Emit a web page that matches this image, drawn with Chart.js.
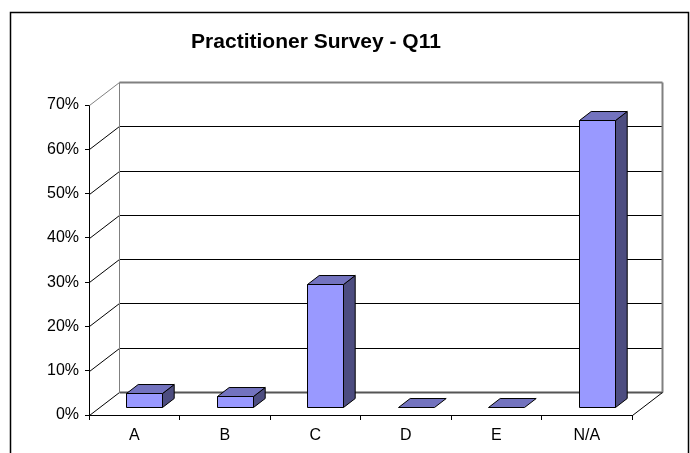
<!DOCTYPE html>
<html>
<head>
<meta charset="utf-8">
<script src="https://cdn.jsdelivr.net/npm/chart.js@4/dist/chart.umd.min.js"></script>
<style>
html,body{margin:0;padding:0;background:#fff;}
#wrap{position:relative;width:690px;height:453px;}
canvas{display:block;}
</style>
</head>
<body>
<div id="wrap"><canvas id="c" width="690" height="453"></canvas></div>
<script>
// ---- data ----
const categories = ['A', 'B', 'C', 'D', 'E', 'N/A'];
const values = [3.25, 2.5, 27.9, 0, 0, 64.9];   // percent
const yTickMax = 70;
const yTickStep = 10;
const chartTitle = 'Practitioner Survey - Q11';

// ---- 3D look ----
const DX = 30, DY = -23;          // depth of the floor / walls
const FRONT = 0.33, DEPTH = 0.39; // bar position & depth as fraction
const FONT = '"Liberation Sans", Arial, sans-serif';

const frame3d = {
  id: 'frame3d',
  beforeDraw(chart) {
    const ctx = chart.ctx;
    ctx.save();
    ctx.strokeStyle = '#000';
    ctx.lineWidth = 1.5;
    ctx.beginPath();
    ctx.moveTo(10.5, 460);
    ctx.lineTo(10.5, 12.5);
    ctx.lineTo(688.5, 12.5);
    ctx.lineTo(688.5, 460);
    ctx.stroke();
    ctx.restore();
  },
  beforeDatasetsDraw(chart) {
    const ctx = chart.ctx;
    const a = chart.chartArea;
    const ys = chart.scales.y;
    const L = Math.round(a.left) + 0.5, R = Math.round(a.right) + 0.5;
    ctx.save();
    ctx.lineCap = 'butt';
    // back wall gridlines + left wall diagonals
    ys.ticks.forEach(t => {
      const y = Math.round(ys.getPixelForValue(t.value)) + 0.5;
      const isTop = t.value === ys.max;
      const isZero = t.value === 0;
      // left wall diagonal
      ctx.strokeStyle = isTop ? '#808080' : '#000';
      ctx.lineWidth = 1;
      ctx.beginPath();
      ctx.moveTo(L, y);
      ctx.lineTo(L + DX, y + DY);
      ctx.stroke();
      // back wall line
      ctx.strokeStyle = isTop ? '#808080' : (isZero ? '#555' : '#000');
      ctx.lineWidth = (isTop || isZero) ? 2 : 1;
      ctx.beginPath();
      ctx.moveTo(L + DX, y + DY);
      ctx.lineTo(R + DX, y + DY);
      ctx.stroke();
    });
    const yT = Math.round(ys.getPixelForValue(ys.max)) + 0.5;
    const yB = Math.round(ys.getPixelForValue(0)) + 0.5;
    // back wall left & right edges
    ctx.strokeStyle = '#808080';
    ctx.lineWidth = 1;
    ctx.beginPath();
    ctx.moveTo(L + DX, yT + DY); ctx.lineTo(L + DX, yB + DY);
    ctx.stroke();
    ctx.lineWidth = 2;
    ctx.beginPath();
    ctx.moveTo(R + DX, yT + DY); ctx.lineTo(R + DX, yB + DY);
    ctx.stroke();
    // floor right diagonal
    ctx.strokeStyle = '#000';
    ctx.lineWidth = 1;
    ctx.beginPath();
    ctx.moveTo(R, yB); ctx.lineTo(R + DX, yB + DY);
    ctx.stroke();
    ctx.restore();
  },
  afterDatasetsDraw(chart) {
    const ctx = chart.ctx;
    const meta = chart.getDatasetMeta(0);
    const fx = DX * FRONT, fy = DY * FRONT;
    const bx = DX * DEPTH, by = DY * DEPTH;
    ctx.save();
    ctx.strokeStyle = '#000';
    ctx.lineWidth = 1;
    ctx.lineJoin = 'miter';
    meta.data.forEach(el => {
      const x0 = Math.round(el.x - el.width / 2 + fx) + 0.5;
      const x1 = Math.round(el.x + el.width / 2 + fx) + 0.5;
      const yT = Math.round(el.y + fy) + 0.5;
      const yB = Math.round(el.base + fy) + 0.5;
      const h = yB - yT;
      if (h > 0.5) {
        // side face
        ctx.fillStyle = '#4D4D80';
        ctx.beginPath();
        ctx.moveTo(x1, yT); ctx.lineTo(x1 + bx, yT + by);
        ctx.lineTo(x1 + bx, yB + by); ctx.lineTo(x1, yB); ctx.closePath();
        ctx.fill(); ctx.stroke();
        // front face
        ctx.fillStyle = '#9999FF';
        ctx.beginPath();
        ctx.rect(x0, yT, x1 - x0, h);
        ctx.fill(); ctx.stroke();
      }
      // top face
      ctx.fillStyle = '#7373BF';
      ctx.beginPath();
      ctx.moveTo(x0, yT); ctx.lineTo(x0 + bx, yT + by);
      ctx.lineTo(x1 + bx, yT + by); ctx.lineTo(x1, yT); ctx.closePath();
      ctx.fill(); ctx.stroke();
    });
    ctx.restore();
  }
};

new Chart(document.getElementById('c'), {
  type: 'bar',
  data: {
    labels: categories,
    datasets: [{
      data: values,
      backgroundColor: 'rgba(0,0,0,0)',
      borderWidth: 0,
      barPercentage: 0.4,
      categoryPercentage: 1.0
    }]
  },
  options: {
    responsive: false,
    animation: false,
    events: [],
    layout: { padding: { left: 0, right: 58, top: 0, bottom: 0 } },
    plugins: {
      legend: { display: false },
      tooltip: { enabled: false },
      title: {
        display: true,
        text: chartTitle,
        color: '#000',
        font: { family: FONT, size: 21, weight: 'bold', lineHeight: 1.2 },
        padding: { top: 30, bottom: 49.8 }
      }
    },
    scales: {
      x: {
        grid: { display: true, drawOnChartArea: false, drawTicks: true, tickLength: 5, color: '#000', offset: true },
        border: { display: true, color: '#000', width: 1 },
        ticks: { color: '#000', font: { family: FONT, size: 16 }, padding: 6, maxRotation: 0 },
        afterFit(s) { s.height = 38; }
      },
      y: {
        min: 0, max: yTickMax,
        grid: { display: true, drawOnChartArea: false, drawTicks: true, tickLength: 4, color: '#000' },
        border: { display: true, color: '#000', width: 1 },
        ticks: {
          stepSize: yTickStep, color: '#000', padding: 6,
          font: { family: FONT, size: 16 },
          callback: v => v + '%'
        },
        afterFit(s) { s.width = 89; }
      }
    }
  },
  plugins: [frame3d]
});
</script>
</body>
</html>
